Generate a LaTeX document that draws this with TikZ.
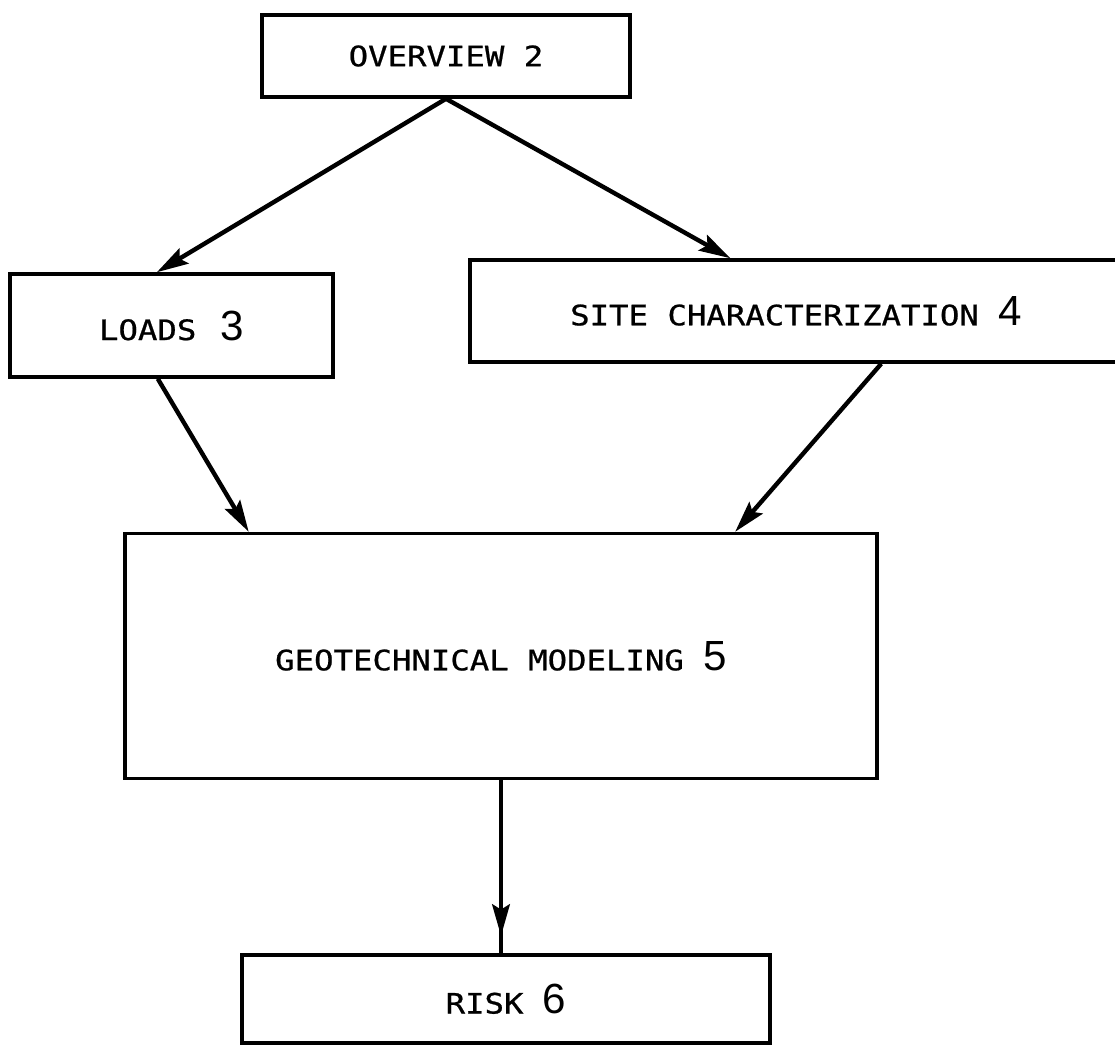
\documentclass[tikz,border=0pt]{standalone}
\usepackage{fontspec}
\usetikzlibrary{calc,arrows.meta,decorations.markings}

\newfontfamily\typefont[FakeStretch=1.15,FakeBold=0.8]{DejaVu Sans Mono}
\newfontfamily\digitfont{Liberation Sans}
\newcommand{\secno}[1]{{\digitfont\fontsize{24}{24}\selectfont #1}}

\tikzset{
  head/.tip={Stealth[length=18pt,width=10pt,inset=3pt]},
  block/.style={draw,line width=2pt,inner sep=0pt,
    font=\typefont\fontsize{16}{16}\selectfont},
  flow/.style={line width=2.5pt,-head},
}

\begin{document}
\begin{tikzpicture}[x=0.02cm,y=-0.02cm]
  \useasboundingbox (0,0) rectangle (1115,1049);

  \node[block,minimum width=7.36cm,minimum height=1.64cm] (overview) at (446,56) {OVERVIEW 2};
  \node[block,minimum width=6.46cm,minimum height=2.06cm] (loads) at (171.5,325.5) {LOADS\, \secno{3}};
  \node[block,minimum width=13.04cm,minimum height=2.04cm] (site) at (796,311) {SITE CHARACTERIZATION \secno{4}};
  \node[block,minimum width=15.04cm,minimum height=4.9cm] (geo) at (501,656) {GEOTECHNICAL MODELING \secno{5}};
  \node[block,minimum width=10.56cm,minimum height=1.76cm] (risk) at (506,999) {RISK \secno{6}};

  \draw[flow] (overview.south) -- ($(loads.north west)!0.455!(loads.north east)$);
  \draw[flow] (overview.south) -- ($(site.north west)!0.40!(site.north east)$);

  \draw[flow] ($(loads.south west)!0.458!(loads.south east)$) -- ($(geo.north west)!0.166!(geo.north east)$);
  \draw[flow] ($(site.south west)!0.63!(site.south east)$) -- ($(geo.north west)!0.81!(geo.north east)$);

  % arrow head sits a little above the risk box
  \draw[line width=2.5pt,postaction={decorate},
    decoration={markings,mark=at position 0.9 with {\arrow{head}}}]
    (geo.south) -- (geo.south |- risk.north);
\end{tikzpicture}
\end{document}
